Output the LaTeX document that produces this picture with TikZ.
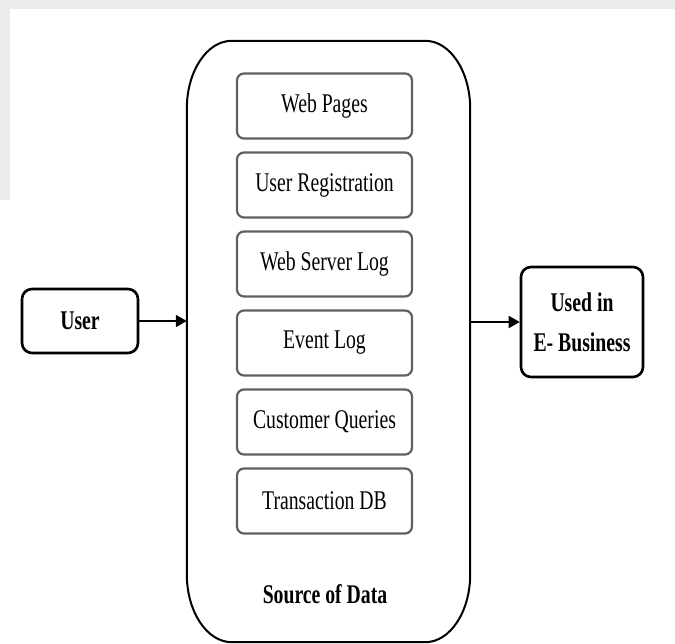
\documentclass[tikz,border=0pt]{standalone}
\usepackage{fontspec}
\setmainfont[FakeStretch=0.73]{Liberation Serif}
\usetikzlibrary{positioning,arrows.meta}

\begin{document}
\begin{tikzpicture}[x=1pt,y=1pt,
  datum/.style={draw={rgb,255:red,95;green,95;blue,95},line width=2.2pt,rounded corners=7pt,
    minimum width=175pt,minimum height=65pt,inner sep=0pt,font=\fontsize{27}{40}\selectfont},
  term/.style={draw,line width=2.6pt,rounded corners=10pt,align=center,inner sep=0pt,
    font=\fontsize{27}{40}\selectfont\bfseries},
  arr/.style={line width=1.8pt,-{Triangle[length=11pt,width=12pt]}}]
\useasboundingbox (0,0) rectangle (675,643);
\fill[gray!15] (0,634) rectangle (675,643);
\fill[gray!15] (0,443) rectangle (10,634);

% source box
\node[minimum width=283pt,minimum height=601pt,inner sep=0pt] (src) at (328.5,301.5) {};
\draw[line width=2pt] ([yshift=-68pt]src.north west)
  arc[start angle=180,end angle=90,x radius=45pt,y radius=68pt] -- ([xshift=-45pt]src.north east)
  arc[start angle=90,end angle=0,x radius=45pt,y radius=68pt] -- ([yshift=68pt]src.south east)
  arc[start angle=0,end angle=-90,x radius=45pt,y radius=68pt] -- ([xshift=45pt]src.south west)
  arc[start angle=270,end angle=180,x radius=45pt,y radius=68pt] -- cycle;

\node[datum] (web) at (324.5,537) {Web Pages};
\node[datum,below=11.8pt of web] (reg) {User Registration};
\node[datum,below=11.8pt of reg] (log) {Web Server Log};
\node[datum,below=11.8pt of log] (evt) {Event Log};
\node[datum,below=11.8pt of evt] (qry) {Customer Queries};
\node[datum,below=11.8pt of qry] (txn) {Transaction DB};
\node[anchor=base,font=\fontsize{27}{40}\selectfont\bfseries] (lbl) at (325,39) {Source of Data};

\node[term,minimum width=116pt,minimum height=64pt] (user) at (80,322) {User};
\node[term,minimum width=122pt,minimum height=110pt] (biz) at (582,321) {Used in\\E- Business};

\draw[arr] (user.east) -- (user.east -| src.west);
\draw[arr] (src.east |- biz.west) -- (biz.west);
\end{tikzpicture}
\end{document}
